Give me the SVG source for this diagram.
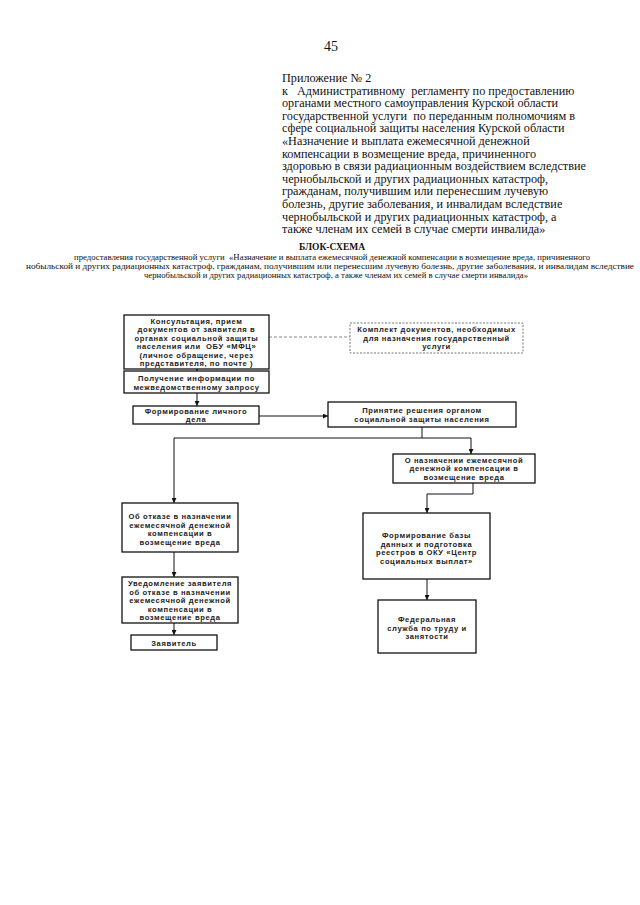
<svg xmlns="http://www.w3.org/2000/svg" width="640" height="905" viewBox="0 0 640 905">
<style>
.hdr{font-family:"Liberation Serif","Times New Roman",serif;font-size:12.2px;fill:#111;white-space:pre}
.sub{font-family:"Liberation Serif","Times New Roman",serif;font-size:7.4px;fill:#111;text-anchor:middle;white-space:pre}
.box{fill:#fff;stroke:#111;stroke-width:1.3}
.dbox{fill:#fff;stroke:#777;stroke-width:1;stroke-dasharray:2 1.5}
.t{font-family:"Liberation Sans",Arial,sans-serif;font-size:7.6px;font-weight:bold;letter-spacing:0.6px;fill:#222;text-anchor:middle}
.c{fill:none;stroke:#111;stroke-width:1}
.cd{fill:none;stroke:#888;stroke-width:1;stroke-dasharray:3 2}
</style>
<defs>
<marker id="ah" viewBox="0 0 6 6" refX="6" refY="3" markerWidth="5" markerHeight="5" orient="auto" markerUnits="userSpaceOnUse">
<path d="M0,0 L6,3 L0,6 Z" fill="#111"/>
</marker>
</defs>
<rect width="640" height="905" fill="#fff"/>

<g id="header">
<text x="331" y="51" class="hdr" style="font-size:14px;text-anchor:middle">45</text>
<text x="282" y="82" class="hdr">Приложение № 2</text>
<text x="282" y="94.6" class="hdr">к   Административному  регламенту по предоставлению</text>
<text x="282" y="107.2" class="hdr">органами местного самоуправления Курской области</text>
<text x="282" y="119.8" class="hdr">государственной услуги  по переданным полномочиям в</text>
<text x="282" y="132.4" class="hdr">сфере социальной защиты населения Курской области</text>
<text x="282" y="145" class="hdr">«Назначение и выплата ежемесячной денежной</text>
<text x="282" y="157.6" class="hdr">компенсации в возмещение вреда, причиненного</text>
<text x="282" y="170.2" class="hdr">здоровью в связи радиационным воздействием вследствие</text>
<text x="282" y="182.8" class="hdr">чернобыльской и других радиационных катастроф,</text>
<text x="282" y="195.4" class="hdr">гражданам, получившим или перенесшим лучевую</text>
<text x="282" y="208" class="hdr">болезнь, другие заболевания, и инвалидам вследствие</text>
<text x="282" y="220.6" class="hdr">чернобыльской и других радиационных катастроф, а</text>
<text x="282" y="233.2" class="hdr">также членам их семей в случае смерти инвалида»</text>
</g>

<g id="title">
<text x="332" y="250" class="sub" style="font-size:9.5px;font-weight:bold">БЛОК-СХЕМА</text>
<text x="332" y="259.5" class="sub" textLength="516" lengthAdjust="spacingAndGlyphs">предоставления государственной услуги  «Назначение и выплата ежемесячной денежной компенсации в возмещение вреда, причиненного</text>
<text x="330" y="268.5" class="sub" textLength="608" lengthAdjust="spacingAndGlyphs">нобыльской и других радиационных катастроф, гражданам, получившим или перенесшим лучевую болезнь, другие заболевания, и инвалидам вследствие</text>
<text x="336" y="277.5" class="sub" textLength="384" lengthAdjust="spacingAndGlyphs">чернобыльской и других радиационных катастроф, а также членам их семей в случае смерти инвалида»</text>
</g>

<g id="connectors">
<path class="cd" d="M269,337 H350"/>
<path class="c" d="M197,369 V371" marker-end="url(#ah)"/>
<path class="c" d="M197,393 V406" marker-end="url(#ah)"/>
<path class="c" d="M259,416 H328" marker-end="url(#ah)"/>
<path class="c" d="M422,427 V438 M174,438 H471"/>
<path class="c" d="M174,438 V503" marker-end="url(#ah)"/>
<path class="c" d="M471,438 V454" marker-end="url(#ah)"/>
<path class="c" d="M473,483 V494 H427 V513" marker-end="url(#ah)"/>
<path class="c" d="M427,579 V600" marker-end="url(#ah)"/>
<path class="c" d="M174,552 V577" marker-end="url(#ah)"/>
<path class="c" d="M174,623 V635" marker-end="url(#ah)"/>
</g>

<g id="n-consult">
<rect class="box" x="124" y="315" width="145" height="54"/>
<text class="t" x="196.5"><tspan x="196.5" y="323.5">Консультация, прием</tspan><tspan x="196.5" y="332">документов от заявителя в</tspan><tspan x="196.5" y="340.5">органах социальной защиты</tspan><tspan x="196.5" y="349" style="white-space:pre">населения или  ОБУ «МФЦ»</tspan><tspan x="196.5" y="357.5">(личное обращение, через</tspan><tspan x="196.5" y="366">представителя, по почте )</tspan></text>
</g>

<g id="n-komplekt">
<rect class="dbox" x="350" y="323" width="173" height="30"/>
<text class="t" x="436.5"><tspan x="436.5" y="332">Комплект документов, необходимых</tspan><tspan x="436.5" y="340.5">для назначения государственный</tspan><tspan x="436.5" y="349">услуги</tspan></text>
</g>

<g id="n-info">
<rect class="box" x="124" y="371" width="145" height="22"/>
<text class="t" x="196.5"><tspan x="196.5" y="380.5">Получение информации по</tspan><tspan x="196.5" y="389.5">межведомственному запросу</tspan></text>
</g>

<g id="n-delo">
<rect class="box" x="133" y="406" width="126" height="18"/>
<text class="t" x="196"><tspan x="196" y="413.5">Формирование личного</tspan><tspan x="196" y="422">дела</tspan></text>
</g>

<g id="n-reshenie">
<rect class="box" x="328" y="402" width="188" height="25"/>
<text class="t" x="422"><tspan x="422" y="412.5">Принятие решения органом</tspan><tspan x="422" y="421.5">социальной защиты населения</tspan></text>
</g>

<g id="n-naznach">
<rect class="box" x="393" y="454" width="142" height="29"/>
<text class="t" x="464"><tspan x="464" y="462.5">О назначении ежемесячной</tspan><tspan x="464" y="471">денежной компенсации в</tspan><tspan x="464" y="479.5">возмещение вреда</tspan></text>
</g>

<g id="n-otkaz">
<rect class="box" x="122" y="503" width="116" height="49"/>
<text class="t" x="180"><tspan x="180" y="519">Об отказе в назначении</tspan><tspan x="180" y="527.5">ежемесячной денежной</tspan><tspan x="180" y="536">компенсации в</tspan><tspan x="180" y="544.5">возмещение вреда</tspan></text>
</g>

<g id="n-baza">
<rect class="box" x="363" y="513" width="127" height="66"/>
<text class="t" x="426.5"><tspan x="426.5" y="538">Формирование базы</tspan><tspan x="426.5" y="546.5">данных и подготовка</tspan><tspan x="426.5" y="555">реестров в ОКУ «Центр</tspan><tspan x="426.5" y="563.5">социальных выплат»</tspan></text>
</g>

<g id="n-uved">
<rect class="box" x="122" y="577" width="116" height="46"/>
<text class="t" x="180"><tspan x="180" y="586">Уведомление заявителя</tspan><tspan x="180" y="594.5">об отказе в назначении</tspan><tspan x="180" y="603">ежемесячной денежной</tspan><tspan x="180" y="611.5">компенсации в</tspan><tspan x="180" y="620">возмещение вреда</tspan></text>
</g>

<g id="n-zayav">
<rect class="box" x="131" y="635" width="86" height="15"/>
<text class="t" x="174" y="645.5">Заявитель</text>
</g>

<g id="n-fed">
<rect class="box" x="378" y="600" width="98" height="53"/>
<text class="t" x="427"><tspan x="427" y="622">Федеральная</tspan><tspan x="427" y="630.5">служба по труду и</tspan><tspan x="427" y="639">занятости</tspan></text>
</g>
</svg>
